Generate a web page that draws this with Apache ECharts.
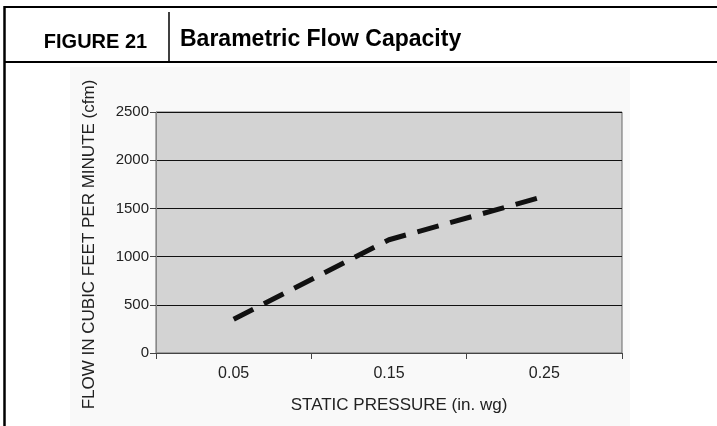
<!DOCTYPE html>
<html><head><meta charset="utf-8">
<script src="https://cdn.jsdelivr.net/npm/echarts@6/dist/echarts.min.js"></script>
<style>html,body{margin:0;padding:0;background:#fff}#c{width:717px;height:426px}</style>
</head><body><div id="c"></div>
<script>
const categories = ['0.05', '0.15', '0.25'];
const flowValues = [350, 1175, 1625];
const yTicks = [0, 500, 1000, 1500, 2000, 2500];
const figureLabel = 'FIGURE 21';
const figureTitle = 'Barametric Flow Capacity';
const xName = 'STATIC PRESSURE (in. wg)';
const yName = 'FLOW IN CUBIC FEET PER MINUTE (cfm)';

const FONT = "'Liberation Sans', Arial, Helvetica, sans-serif";
const chart = echarts.init(document.getElementById('c'), null, {renderer: 'canvas'});
chart.setOption({
  animation: false,
  backgroundColor: '#fff',
  graphic: [
    {type: 'rect', shape: {x: 70, y: 67, width: 560, height: 359}, style: {fill: '#f9f9f9'}, z: -10},
    {type: 'line', shape: {x1: 4, y1: 7, x2: 717, y2: 7}, style: {stroke: '#000', lineWidth: 2}},
    {type: 'line', shape: {x1: 4, y1: 62, x2: 717, y2: 62}, style: {stroke: '#000', lineWidth: 2}},
    {type: 'line', shape: {x1: 4.5, y1: 6, x2: 4.5, y2: 426}, style: {stroke: '#000', lineWidth: 2.5}},
    {type: 'line', shape: {x1: 169, y1: 12, x2: 169, y2: 62}, style: {stroke: '#000', lineWidth: 1.5}},
    {type: 'text', x: 95.5, y: 42, style: {text: figureLabel, font: "bold 20px " + FONT, fill: '#000', textAlign: 'center', textVerticalAlign: 'middle'}},
    {type: 'text', x: 180, y: 40, style: {text: figureTitle, font: "bold 23px " + FONT, fill: '#000', textAlign: 'left', textVerticalAlign: 'middle'}},
    {type: 'text', x: 399, y: 405, style: {text: xName, font: "17px " + FONT, fill: '#222', textAlign: 'center', textVerticalAlign: 'middle'}},
    {type: 'text', x: 89.5, y: 244.5, rotation: Math.PI / 2, style: {text: yName, font: "17px " + FONT, fill: '#222', textAlign: 'center', textVerticalAlign: 'middle'}}
  ],
  grid: {left: 156, top: 112, width: 466, height: 241, show: true, backgroundColor: '#d3d3d3', borderColor: '#666', borderWidth: 1},
  xAxis: {
    type: 'category', data: categories, boundaryGap: true,
    axisLine: {lineStyle: {color: '#444', width: 1}},
    axisTick: {show: true, length: 6, interval: 0, lineStyle: {color: '#444'}},
    axisLabel: {fontFamily: FONT, fontSize: 16, color: '#222', margin: 13},
    splitLine: {show: false}
  },
  yAxis: {
    type: 'value', min: yTicks[0], max: yTicks[yTicks.length - 1], interval: 500,
    axisLine: {show: true, lineStyle: {color: '#888', width: 1}},
    axisTick: {show: true, length: 6, lineStyle: {color: '#444'}},
    axisLabel: {fontFamily: FONT, fontSize: 15, color: '#222', margin: 7, formatter: v => String(v)},
    splitLine: {show: true, lineStyle: {color: '#111', width: 1}}
  },
  series: [{
    type: 'line', data: flowValues, symbol: 'none',
    lineStyle: {color: '#111', width: 5, type: [22, 12]}
  }]
});
</script></body></html>
